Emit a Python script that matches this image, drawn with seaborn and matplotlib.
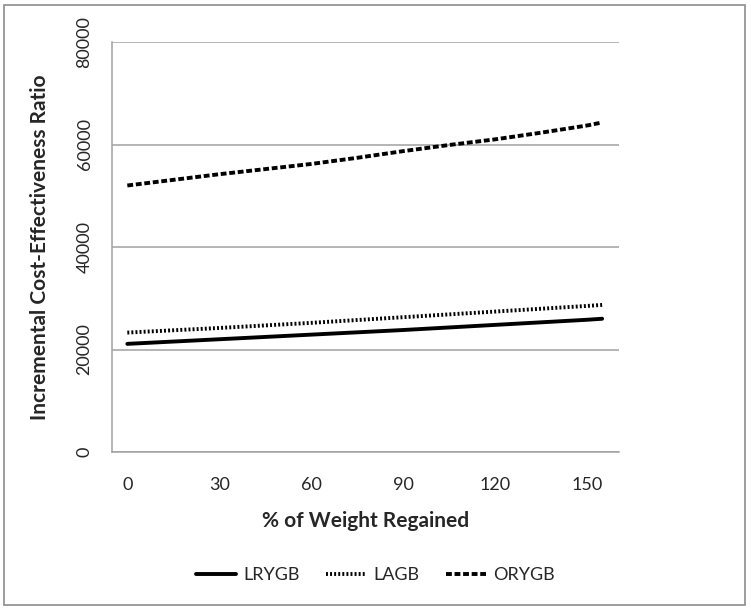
import seaborn as sns
import matplotlib.pyplot as plt
import pandas as pd
from matplotlib.patches import Rectangle
from matplotlib.lines import Line2D

sns.set_style("white")
plt.rcParams['font.family'] = ['Lato', 'DejaVu Sans']

# % of weight regained (x) and ICER values
weight_regained = [0, 15, 30, 45, 60, 75, 90, 105, 120, 135, 150, 155]
lrygb = [21100, 21550, 22000, 22450, 22900, 23350, 23800, 24300, 24800, 25300, 25800, 26000]
lagb = [23300, 23750, 24200, 24700, 25200, 25750, 26300, 26850, 27400, 27950, 28500, 28700]
orygb = [52000, 53100, 54200, 55200, 56200, 57400, 58700, 59900, 61000, 62300, 63700, 64300]

x_ticks = [0, 30, 60, 90, 120, 150]
y_ticks = [0, 20000, 40000, 60000, 80000]

series = {'LRYGB': lrygb, 'LAGB': lagb, 'ORYGB': orygb}
styles = {'LRYGB': '-', 'LAGB': (0, (0.5, 0.55)), 'ORYGB': (0, (1.5, 0.7))}

grey = '#a0a0a0'

fig = plt.figure(figsize=(7.51, 6.11), dpi=100)
ax = fig.add_axes([112 / 751, 1 - 452 / 611, (619 - 112) / 751, (452 - 42) / 611])

for name, vals in series.items():
    df = pd.DataFrame({'x': weight_regained, 'y': vals})
    sns.lineplot(data=df, x='x', y='y', ax=ax, color='black', lw=2.8,
                 linestyle=styles[name], label=name, legend=False)

ax.set_xlim(-5, 160.5)
ax.set_ylim(0, 80000)

# labels at category positions, tick marks between categories (Excel style)
ax.set_xticks(x_ticks)
ax.set_xticklabels([str(t) for t in x_ticks], fontsize=13)
ax.tick_params(axis='x', which='major', length=0, pad=18)
ax.set_xticks([-5, 25, 55, 85, 115, 145], minor=True)
ax.tick_params(axis='x', which='minor', length=6, width=1.1, color=grey, direction='out')

ax.set_yticks(y_ticks)
ax.set_yticklabels([str(t) for t in y_ticks], fontsize=13, rotation=90, va='center')
ax.tick_params(axis='y', length=6, width=1.1, color=grey, direction='out', pad=8)

ax.grid(axis='y', color=grey, lw=1.1)
ax.grid(axis='x', visible=False)
for s in ['top', 'right']:
    ax.spines[s].set_visible(False)
for s in ['left', 'bottom']:
    ax.spines[s].set_color(grey)
    ax.spines[s].set_linewidth(1.1)

ax.set_xlabel('% of Weight Regained', fontsize=15, fontweight='bold', labelpad=13)
ax.set_ylabel('Incremental Cost-Effectiveness Ratio', fontsize=15, fontweight='bold', labelpad=19)

handles = [Line2D([0], [0], color='black', lw=2.8, linestyle=styles[n]) for n in series]
fig.legend(handles, list(series.keys()), loc='center', bbox_to_anchor=(0.5, 1 - 575 / 611),
           ncol=3, frameon=False, fontsize=13, handlelength=2.2, columnspacing=1.5,
           handletextpad=0.4)

# outer chart frame
fig.patches.append(Rectangle((4 / 751, 1 - 605 / 611), 741 / 751, 600 / 611,
                             transform=fig.transFigure, fill=False, ec='#8c8c8c', lw=1.2))

plt.savefig('out.png', dpi=100)
